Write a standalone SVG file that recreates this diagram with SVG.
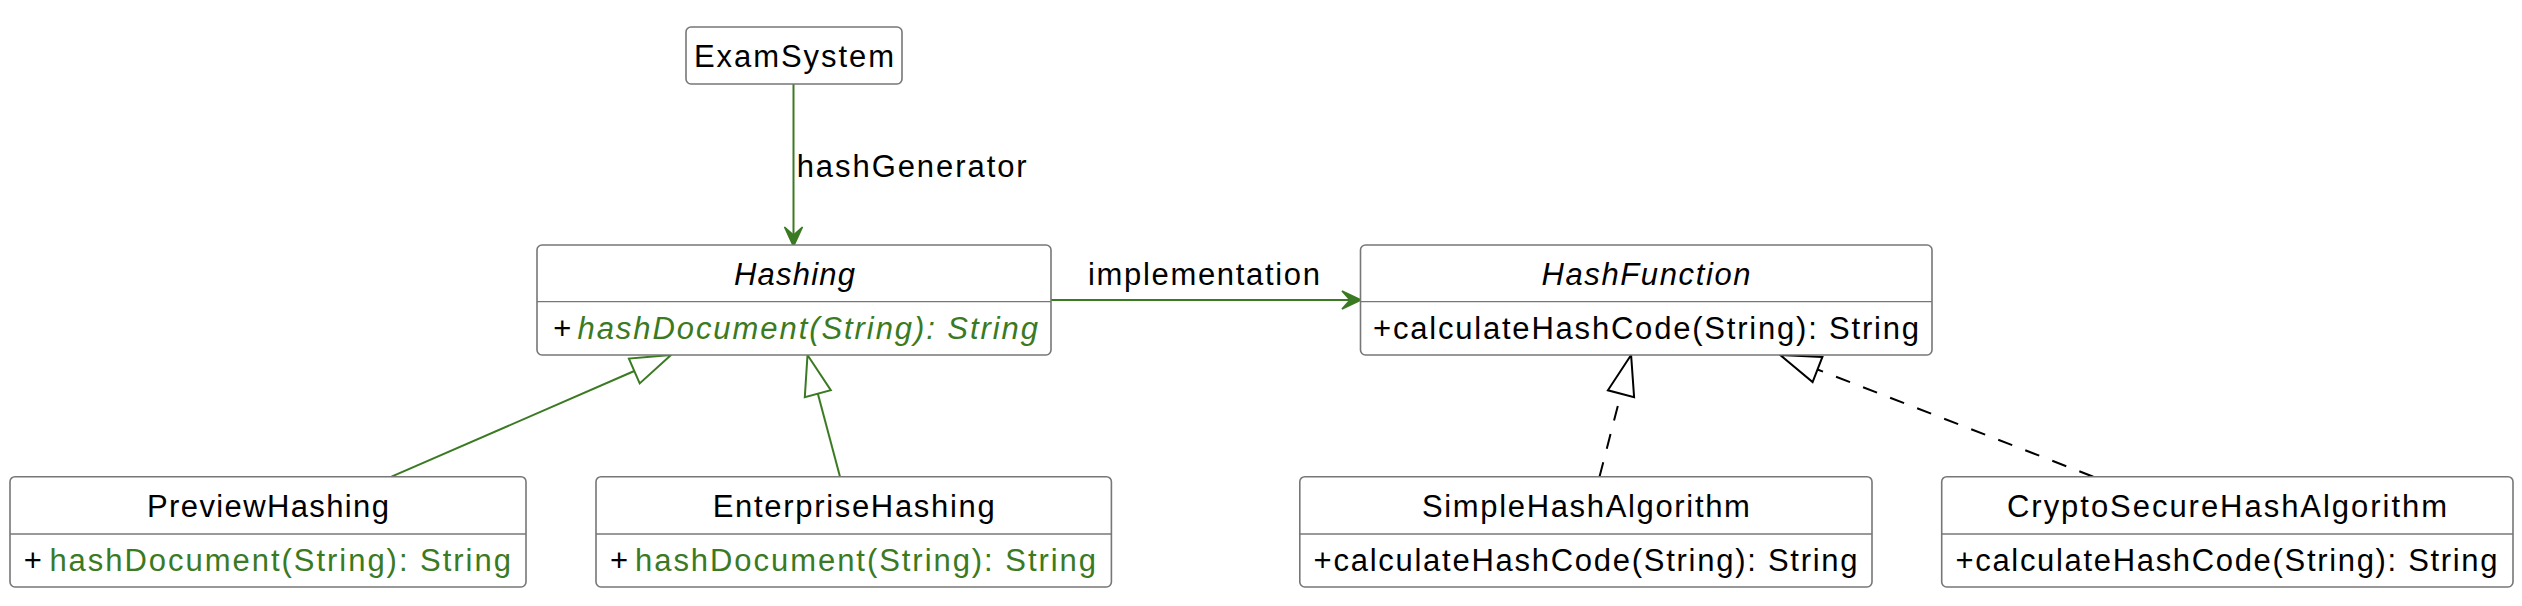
<svg xmlns="http://www.w3.org/2000/svg" width="2522" height="606" viewBox="0 0 2522 606">
<style>
.box{fill:#ffffff;stroke:#777777;stroke-width:1.6}
.div{stroke:#777777;stroke-width:1.3}
text{font-family:"Liberation Sans",Arial,sans-serif;font-size:31px;fill:#000000}
.it{font-style:italic}
.g{fill:#3a7a22}
.ln{stroke:#3a7a22;stroke-width:2;fill:none}
.dl{stroke:#000000;stroke-width:2;fill:none;stroke-dasharray:15,14}
.tri{fill:#ffffff;stroke:#3a7a22;stroke-width:2}
.trib{fill:#ffffff;stroke:#000000;stroke-width:2}
.ah{fill:#3a7a22;stroke:#3a7a22;stroke-width:1.5}
</style>
<rect width="2522" height="606" fill="#ffffff"/>
<g id="connectors">
  <line class="ln" x1="793.5" y1="84" x2="793.5" y2="240"/>
  <polygon class="ah" points="793.5,246.5 784.5,227 793.5,235 802.5,227"/>
  <text x="796.7" y="177" textLength="230" lengthAdjust="spacing">hashGenerator</text>
  <line class="ln" x1="1051" y1="300" x2="1354" y2="300"/>
  <polygon class="ah" points="1361,300 1342,291 1350,300 1342,309"/>
  <text x="1088" y="285" textLength="232" lengthAdjust="spacing">implementation</text>
  <line class="ln" x1="391.5" y1="476.7" x2="634.3" y2="371"/>
  <polygon class="tri" points="671,355 639.7,383.4 628.9,358.6"/>
  <line class="ln" x1="840" y1="476.7" x2="817.8" y2="393.6"/>
  <polygon class="tri" points="807.5,355 830.8,390.1 804.8,397.1"/>
  <line class="dl" x1="1599.5" y1="476.7" x2="1621" y2="393.7"/>
  <polygon class="trib" points="1631.1,355 1634.1,397.1 1607.9,390.3"/>
  <line class="dl" x1="2093.3" y1="476.7" x2="1817.5" y2="369.5"/>
  <polygon class="trib" points="1780.2,355 1822.4,356.9 1812.6,382.1"/>
</g>
<g id="ExamSystem">
  <rect class="box" x="686" y="27" width="216" height="57" rx="5"/>
  <text x="794" y="67" text-anchor="middle" textLength="200" lengthAdjust="spacing">ExamSystem</text>
</g>
<g id="Hashing">
  <rect class="box" x="537" y="245" width="514" height="110" rx="5"/>
  <line class="div" x1="537" y1="301.7" x2="1051" y2="301.7"/>
  <text class="it" x="794.5" y="285" text-anchor="middle" textLength="121" lengthAdjust="spacing">Hashing</text>
  <text class="it" x="552.7" y="339">+</text>
  <text class="it g" x="577.5" y="339" textLength="460.5" lengthAdjust="spacing">hashDocument(String): String</text>
</g>
<g id="HashFunction">
  <rect class="box" x="1360.5" y="245" width="571.5" height="110" rx="5"/>
  <line class="div" x1="1360.5" y1="301.7" x2="1932" y2="301.7"/>
  <text class="it" x="1646" y="285" text-anchor="middle" textLength="209" lengthAdjust="spacing">HashFunction</text>
  <text x="1373" y="339" textLength="546" lengthAdjust="spacing">+calculateHashCode(String): String</text>
</g>
<g id="PreviewHashing">
  <rect class="box" x="10" y="476.7" width="516" height="110.3" rx="5"/>
  <line class="div" x1="10" y1="534" x2="526" y2="534"/>
  <text x="268" y="516.7" text-anchor="middle" textLength="242" lengthAdjust="spacing">PreviewHashing</text>
  <text x="23.7" y="571">+</text>
  <text class="g" x="49.4" y="571" textLength="461.5" lengthAdjust="spacing">hashDocument(String): String</text>
</g>
<g id="EnterpriseHashing">
  <rect class="box" x="596" y="476.7" width="515.4" height="110.3" rx="5"/>
  <line class="div" x1="596" y1="534" x2="1111.4" y2="534"/>
  <text x="853.7" y="516.7" text-anchor="middle" textLength="282" lengthAdjust="spacing">EnterpriseHashing</text>
  <text x="610" y="571">+</text>
  <text class="g" x="635" y="571" textLength="461" lengthAdjust="spacing">hashDocument(String): String</text>
</g>
<g id="SimpleHashAlgorithm">
  <rect class="box" x="1299.8" y="476.7" width="572.2" height="110.3" rx="5"/>
  <line class="div" x1="1299.8" y1="534" x2="1872" y2="534"/>
  <text x="1585.9" y="516.7" text-anchor="middle" textLength="328" lengthAdjust="spacing">SimpleHashAlgorithm</text>
  <text x="1313.6" y="571" textLength="544" lengthAdjust="spacing">+calculateHashCode(String): String</text>
</g>
<g id="CryptoSecureHashAlgorithm">
  <rect class="box" x="1941.7" y="476.7" width="571.3" height="110.3" rx="5"/>
  <line class="div" x1="1941.7" y1="534" x2="2513" y2="534"/>
  <text x="2227" y="516.7" text-anchor="middle" textLength="440" lengthAdjust="spacing">CryptoSecureHashAlgorithm</text>
  <text x="1955.5" y="571" textLength="542" lengthAdjust="spacing">+calculateHashCode(String): String</text>
</g>
</svg>
